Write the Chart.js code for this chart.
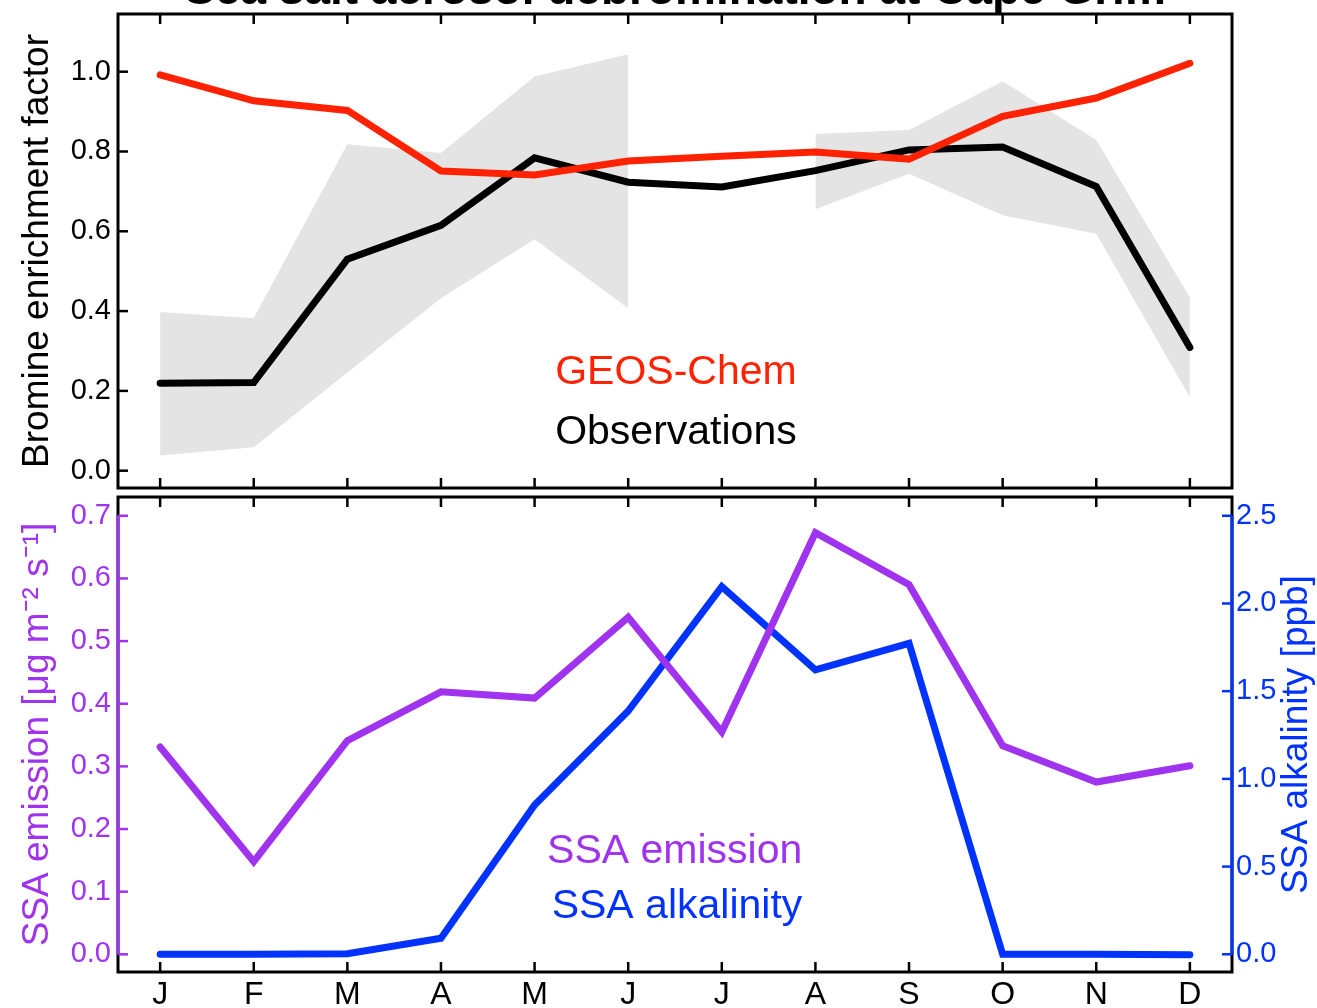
<!DOCTYPE html>
<html>
<head>
<meta charset="utf-8">
<script src="https://cdn.jsdelivr.net/npm/chart.js@4.4.1/dist/chart.umd.min.js"></script>
<style>
  html, body { margin: 0; padding: 0; background: #fff; }
  #wrap { position: relative; width: 1317px; height: 1008px; overflow: hidden; }
  canvas { position: absolute; left: 0; }
  #top { top: 0; }
  #bottom { top: 492px; }
</style>
</head>
<body>
<div id="wrap">
  <canvas id="top" width="1317" height="492"></canvas>
  <canvas id="bottom" width="1317" height="516"></canvas>
</div>
<script>
const months = ["J", "F", "M", "A", "M", "J", "J", "A", "S", "O", "N", "D"];

// top panel: bromine enrichment factor
const geosChem = [0.992, 0.927, 0.903, 0.751, 0.741, 0.776, 0.788, 0.799, 0.781, 0.888, 0.934, 1.021];
const observations = [0.219, 0.221, 0.530, 0.615, 0.784, 0.723, 0.711, 0.752, 0.804, 0.811, 0.712, 0.309];
const obsUpper = [0.398, 0.382, 0.818, 0.796, 0.988, 1.044, null, 0.844, 0.854, 0.976, 0.829, 0.434];
const obsLower = [0.038, 0.059, 0.246, 0.432, 0.580, 0.407, null, 0.655, 0.744, 0.640, 0.594, 0.184];

// bottom panel
const ssaEmission = [0.331, 0.148, 0.341, 0.419, 0.409, 0.538, 0.355, 0.673, 0.590, 0.333, 0.275, 0.301];
const ssaAlkalinity = [0.0, 0.0, 0.003, 0.091, 0.851, 1.387, 2.096, 1.621, 1.773, 0.0, 0.0, -0.003];

const brTicks = [0.0, 0.2, 0.4, 0.6, 0.8, 1.0];
const emisTicks = [0.0, 0.1, 0.2, 0.3, 0.4, 0.5, 0.6, 0.7];
const alkTicks = [0.0, 0.5, 1.0, 1.5, 2.0, 2.5];

const FONT = "'Liberation Sans', Arial, Helvetica, sans-serif";
const RED = "#ff2200", PURPLE = "#a033ee", BLUE = "#0033ff", BAND = "#e4e4e4";

const pts = arr => arr.map((v, i) => ({ x: i, y: v }));

const lineDs = (label, arr, color, axis) => ({
  label, data: pts(arr), borderColor: color, borderWidth: 7,
  pointRadius: 0, borderCapStyle: "round", borderJoinStyle: "miter",
  fill: false, yAxisID: axis || "y", tension: 0
});

// frame, inward tick marks, in-plot labels
const decor = {
  id: "decor",
  afterDatasetsDraw(chart, args, opts) {
    const { ctx, chartArea: a, scales } = chart;
    const seg = (x1, y1, x2, y2) => { ctx.beginPath(); ctx.moveTo(x1, y1); ctx.lineTo(x2, y2); ctx.stroke(); };
    ctx.save();
    ctx.strokeStyle = "#000";
    ctx.lineWidth = 3;
    ctx.strokeRect(a.left, a.top, a.right - a.left, a.bottom - a.top);
    ctx.lineWidth = 2.5;
    months.forEach((m, i) => {
      const x = scales.x.getPixelForValue(i);
      seg(x, a.top, x, a.top + 10);
      seg(x, a.bottom, x, a.bottom - 10);
    });
    (opts.axes || []).forEach(ax => {
      const s = scales[ax.id];
      const x0 = ax.side === "left" ? a.left : a.right;
      const dir = ax.side === "left" ? 1 : -1;
      ctx.strokeStyle = ax.color;
      if (ax.spine) {
        ctx.lineWidth = 3;
        seg(x0, s.getPixelForValue(ax.ticks[0]), x0, s.getPixelForValue(ax.ticks[ax.ticks.length - 1]));
      }
      ctx.lineWidth = 2.5;
      ax.ticks.forEach(v => {
        const y = s.getPixelForValue(v);
        seg(x0, y, x0 + dir * 10, y);
      });
    });
    ctx.textAlign = "right";
    ctx.textBaseline = "middle";
    (opts.labels || []).forEach(l => {
      ctx.font = "41px " + FONT;
      ctx.fillStyle = l.color;
      ctx.fillText(l.text, scales.x.getPixelForValue(l.x), scales[l.axis || "y"].getPixelForValue(l.y));
    });
    if (opts.title) {
      ctx.font = "bold 46px " + FONT;
      ctx.fillStyle = "#000";
      ctx.textAlign = "center";
      ctx.textBaseline = "alphabetic";
      ctx.fillText(opts.title, (a.left + a.right) / 2, 4);
    }
    if (opts.rightTitle) {
      ctx.save();
      ctx.translate(1297, (a.top + a.bottom) / 2);
      ctx.rotate(-Math.PI / 2);
      ctx.font = "37px " + FONT;
      ctx.fillStyle = opts.rightTitle.color;
      ctx.textAlign = "center";
      ctx.textBaseline = "middle";
      ctx.fillText(opts.rightTitle.text, 0, 0);
      ctx.restore();
    }
    ctx.restore();
  }
};

const noPad = s => { s.paddingTop = 0; s.paddingBottom = 0; s.paddingLeft = 0; s.paddingRight = 0; };

const xScale = (show) => ({
  type: "linear", min: -0.45, max: 11.45, display: show,
  grid: { display: false, drawTicks: false }, border: { display: false },
  afterBuildTicks: s => { s.ticks = months.map((m, i) => ({ value: i })); },
  afterFit: s => { noPad(s); s.height = show ? 36 : 0; },
  ticks: {
    color: "#000", padding: 4, font: { family: FONT, size: 32 },
    callback: (v) => months[v], maxRotation: 0, autoSkip: false
  }
});

const yScale = (tickArr, min, max, color, pos, width, title) => ({
  type: "linear", position: pos, min, max,
  grid: { display: false, drawTicks: false }, border: { display: false },
  afterBuildTicks: s => { s.ticks = tickArr.map(v => ({ value: v })); },
  afterFit: s => { noPad(s); s.width = width; },
  ticks: {
    color, padding: pos === "left" ? 7 : 4, font: { family: FONT, size: 29 },
    callback: v => v.toFixed(1)
  },
  title: title ? {
    display: true, text: title, color, font: { family: FONT, size: 37 },
    padding: { top: 16, bottom: 0 }
  } : { display: false }
});

new Chart(document.getElementById("top"), {
  type: "line",
  data: {
    datasets: [
      lineDs("GEOS-Chem", geosChem, RED),
      lineDs("Observations", observations, "#000"),
      { label: "upper", data: pts(obsUpper), borderWidth: 0, pointRadius: 0,
        backgroundColor: BAND, fill: "+1", spanGaps: false },
      { label: "lower", data: pts(obsLower), borderWidth: 0, pointRadius: 0,
        fill: false, spanGaps: false }
    ]
  },
  options: {
    responsive: false, animation: false, devicePixelRatio: 1,
    layout: { padding: { top: 14, right: 85, bottom: 4, left: 0 } },
    scales: {
      x: xScale(false),
      y: yScale(brTicks, -0.0434, 1.1446, "#000", "left", 118, "Bromine enrichment factor")
    },
    plugins: {
      legend: { display: false }, tooltip: { enabled: false },
      decor: {
        title: "Sea salt aerosol debromination at Cape Grim",
        axes: [{ id: "y", side: "left", color: "#000", ticks: brTicks }],
        labels: [
          { text: "GEOS-Chem", color: RED, x: 6.8, y: 0.246 },
          { text: "Observations", color: "#000", x: 6.8, y: 0.096 }
        ]
      }
    }
  },
  plugins: [decor]
});

new Chart(document.getElementById("bottom"), {
  type: "line",
  data: {
    datasets: [
      lineDs("SSA emission", ssaEmission, PURPLE, "y"),
      lineDs("SSA alkalinity", ssaAlkalinity, BLUE, "y2")
    ]
  },
  options: {
    responsive: false, animation: false, devicePixelRatio: 1,
    layout: { padding: { top: 5, right: 0, bottom: 0, left: 0 } },
    scales: {
      x: xScale(true),
      y: yScale(emisTicks, -0.0282, 0.730, PURPLE, "left", 118, "SSA emission [μg m⁻² s⁻¹]"),
      y2: yScale(alkTicks, -0.101, 2.607, BLUE, "right", 85, null)
    },
    plugins: {
      legend: { display: false }, tooltip: { enabled: false },
      decor: {
        axes: [
          { id: "y", side: "left", color: PURPLE, ticks: emisTicks, spine: true },
          { id: "y2", side: "right", color: BLUE, ticks: alkTicks, spine: true }
        ],
        labels: [
          { text: "SSA emission", color: PURPLE, x: 6.86, y: 0.164 },
          { text: "SSA alkalinity", color: BLUE, x: 6.86, y: 0.076 }
        ],
        rightTitle: { text: "SSA alkalinity [ppb]", color: BLUE }
      }
    }
  },
  plugins: [decor]
});
</script>
</body>
</html>
